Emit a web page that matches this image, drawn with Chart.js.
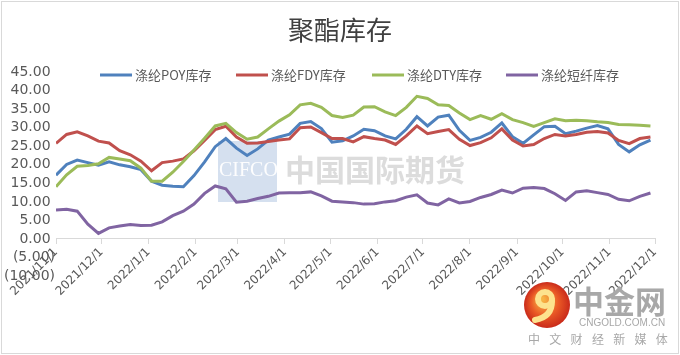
<!DOCTYPE html>
<html><head><meta charset="utf-8">
<script src="https://cdn.jsdelivr.net/npm/chart.js@4/dist/chart.umd.min.js"></script>
<style>html,body{margin:0;padding:0;background:#fff;}#wrap{width:680px;height:355px;}</style>
</head><body><div id="wrap"><canvas id="c" width="680" height="355"></canvas></div>
<script>
const chartTitle = '聚酯库存';
const seriesNames = ['涤纶POY库存', '涤纶FDY库存', '涤纶DTY库存', '涤纶短纤库存'];
const seriesColors = ['#4F81BD', '#C0504D', '#9BBB59', '#8064A2'];
const dates = ['2021/11/1','2021/11/8','2021/11/15','2021/11/22','2021/11/29','2021/12/6','2021/12/13','2021/12/20','2021/12/27',
  '2022/1/3','2022/1/10','2022/1/17','2022/1/24','2022/1/31','2022/2/7','2022/2/14','2022/2/21','2022/2/28',
  '2022/3/7','2022/3/14','2022/3/21','2022/3/28','2022/4/4','2022/4/11','2022/4/18','2022/4/25',
  '2022/5/2','2022/5/9','2022/5/16','2022/5/23','2022/5/30','2022/6/6','2022/6/13','2022/6/20','2022/6/27',
  '2022/7/4','2022/7/11','2022/7/18','2022/7/25','2022/8/1','2022/8/8','2022/8/15','2022/8/22','2022/8/29',
  '2022/9/5','2022/9/12','2022/9/19','2022/9/26','2022/10/3','2022/10/10','2022/10/17','2022/10/24','2022/10/31',
  '2022/11/7','2022/11/14','2022/11/21','2022/11/28'];
const monthTicks = ['2021/11/1','2021/12/1','2022/1/1','2022/2/1','2022/3/1','2022/4/1','2022/5/1','2022/6/1',
  '2022/7/1','2022/8/1','2022/9/1','2022/10/1','2022/11/1','2022/12/1'];
const poy = [17.2,20.1,21.3,20.6,19.9,20.8,20.0,19.5,18.7,15.6,14.5,14.2,14.1,17.1,20.8,24.9,27.1,24.5,22.5,24.3,
  26.7,27.5,28.3,31.2,31.7,29.8,26.1,26.5,27.8,29.6,29.2,27.8,27.0,29.6,33.0,30.5,32.9,33.4,29.3,26.6,
  27.4,28.8,31.3,27.6,25.8,28.1,30.3,30.4,28.4,29.1,29.9,30.6,29.7,25.5,23.5,25.4,26.7];
const fdy = [25.8,28.2,28.9,27.8,26.4,25.9,23.8,22.7,21.0,18.4,20.6,21.0,21.6,23.8,26.6,29.5,30.4,27.5,25.8,25.9,
  26.3,26.7,27.0,30.0,30.2,28.7,27.1,27.1,26.2,27.6,27.1,26.7,25.5,27.8,30.5,28.4,29.0,29.5,26.9,25.2,
  26.0,27.3,29.7,26.7,25.1,25.5,27.1,28.2,27.8,28.2,28.8,29.0,28.6,26.6,25.7,27.1,27.5];
const dty = [14.1,17.3,19.6,19.8,20.3,22.0,21.6,21.1,19.1,15.6,15.6,18.0,20.9,24.0,27.2,30.5,31.2,28.7,26.9,27.5,
  29.7,31.8,33.5,36.2,36.6,35.5,33.3,32.8,33.4,35.6,35.7,34.3,33.3,35.5,38.5,37.9,36.2,36.0,34.0,32.2,
  33.3,32.3,33.8,32.2,31.4,30.4,31.4,32.4,31.9,32.0,31.9,31.6,31.4,30.9,30.8,30.7,30.5];
const psf = [7.8,8.0,7.5,4.0,1.5,3.0,3.5,3.9,3.6,3.7,4.6,6.3,7.5,9.4,12.3,14.3,13.5,9.9,10.2,10.9,
  11.5,12.4,12.5,12.5,12.7,11.6,10.2,10.0,9.8,9.4,9.5,10.0,10.3,11.3,11.9,9.7,9.2,10.8,9.7,10.1,
  11.2,12.0,13.2,12.4,13.7,13.9,13.6,12.2,10.4,12.7,13.0,12.5,12.0,10.7,10.3,11.5,12.4];
const yTicks = [-10,-5,0,5,10,15,20,25,30,35,40,45];

const origin = Date.UTC(2021, 10, 1);
function dayOf(s) { const p = s.split('/').map(Number); return (Date.UTC(p[0], p[1]-1, p[2]) - origin) / 86400000; }
const monthDays = monthTicks.map(dayOf);
const allSeries = [poy, fdy, dty, psf];

const datasets = allSeries.map((arr, k) => ({
  label: seriesNames[k],
  data: arr.map((v, i) => ({x: dayOf(dates[i]), y: v})),
  borderColor: seriesColors[k],
  backgroundColor: seriesColors[k],
  borderWidth: 3,
  pointRadius: 0,
  tension: 0,
  fill: false,
  order: 3 - k
}));

const txt = '#595959';
const legendStarts = [100, 236, 372, 506];
const decor = {
  id: 'decor',
  beforeDatasetsDraw(chart) {
    const ctx = chart.ctx;
    ctx.save();
    ctx.fillStyle = 'rgba(178,198,226,0.55)';
    ctx.fillRect(218, 141, 59, 61);
    ctx.fillStyle = 'rgba(255,255,255,0.95)';
    ctx.font = '20px "Liberation Serif"';
    ctx.textBaseline = 'middle'; ctx.textAlign = 'left';
    ctx.fillText('CIFCO', 219, 171);
    ctx.fillStyle = 'rgba(205,205,205,0.7)';
    ctx.font = 'bold 30px "Noto Sans CJK SC"';
    ctx.fillText('中国国际期货', 285, 170);
    ctx.restore();
  },
  afterDraw(chart) {
    const ctx = chart.ctx;
    ctx.save();
    // legend drawn over the plot area, like the original
    ctx.font = '13px "Noto Sans CJK SC"';
    ctx.textBaseline = 'middle'; ctx.textAlign = 'left';
    const ly = 75;
    chart.data.datasets.forEach((d, i) => {
      const x = legendStarts[i];
      ctx.strokeStyle = d.borderColor; ctx.lineWidth = 3; ctx.lineCap = 'butt';
      ctx.beginPath(); ctx.moveTo(x, ly); ctx.lineTo(x + 32, ly); ctx.stroke();
      ctx.fillStyle = txt;
      ctx.fillText(d.label, x + 35, ly);
    });
    // logo
    const cx = 547, cy = 305, r = 23;
    const g = ctx.createRadialGradient(cx - 5, cy - 6, 2, cx, cy, r);
    g.addColorStop(0, '#f7b444'); g.addColorStop(0.55, '#ea5a26'); g.addColorStop(1, '#c92a1a');
    ctx.fillStyle = g; ctx.beginPath(); ctx.arc(cx, cy, r, 0, Math.PI * 2); ctx.fill();
    ctx.strokeStyle = '#fde38e'; ctx.lineWidth = 6; ctx.lineCap = 'round';
    ctx.beginPath(); ctx.arc(cx - 2, cy - 6, 7, 0, Math.PI * 2); ctx.stroke();
    ctx.beginPath(); ctx.moveTo(cx + 5, cy - 4); ctx.quadraticCurveTo(cx + 5, cy + 12, cx - 12, cy + 15); ctx.stroke();
    ctx.fillStyle = '#a8a8a8';
    ctx.font = 'bold 31px "Noto Sans CJK SC"';
    ctx.fillText('中金网', 573, 301);
    ctx.font = '10px "Liberation Sans"';
    ctx.fillText('CNGOLD.COM.CN', 579, 323);
    ctx.font = '12px "Noto Sans CJK SC"';
    const sub = '中文财经新媒体';
    for (let i = 0; i < sub.length; i++) ctx.fillText(sub[i], 528 + i * 21.3, 339);
    ctx.strokeStyle = '#d9d9d9'; ctx.lineWidth = 1;
    ctx.strokeRect(1.5, 1.5, 677, 352);
    ctx.restore();
  }
};

new Chart(document.getElementById('c'), {
  type: 'line',
  data: { datasets },
  plugins: [decor],
  options: {
    responsive: false,
    devicePixelRatio: 1,
    animation: false,
    layout: { padding: { top: 0, left: 0, right: 0, bottom: 79 } },
    plugins: {
      tooltip: { enabled: false },
      legend: { display: false },
      title: {
        display: true, text: chartTitle, color: '#404040',
        font: { family: '"Noto Sans CJK SC"', size: 26, weight: 'normal' },
        padding: { top: 15, bottom: 26 }
      }
    },
    scales: {
      x: {
        type: 'linear', min: 0, max: monthDays[monthDays.length - 1],
        position: { y: 0 },
        grid: { display: true, drawOnChartArea: false, drawTicks: true, tickLength: 5, color: '#d9d9d9' },
        border: { display: true, color: '#d9d9d9', width: 1 },
        afterBuildTicks: s => { s.ticks = monthDays.map(v => ({ value: v })); },
        ticks: {
          autoSkip: false, minRotation: 45, maxRotation: 45, color: txt, padding: 1,
          font: { family: '"DejaVu Sans"', size: 12 },
          callback: (v, i) => monthTicks[i]
        }
      },
      y: {
        type: 'linear', position: 'left', min: -10, max: 45,
        grid: { display: false, drawTicks: false },
        border: { display: false },
        afterBuildTicks: s => { s.ticks = yTicks.map(v => ({ value: v })); },
        afterFit: s => { s.width = 56; },
        ticks: {
          autoSkip: false, color: txt, padding: 1,
          font: { family: '"DejaVu Sans"', size: 14 },
          callback: v => v < 0 ? '(' + Math.abs(v).toFixed(2) + ')' : v.toFixed(2) + ' '
        }
      },
      yPad: {
        type: 'linear', position: 'right', display: true,
        grid: { display: false, drawTicks: false },
        border: { display: false },
        ticks: { display: false },
        afterFit: s => { s.width = 25; }
      }
    }
  }
});
</script></body></html>
